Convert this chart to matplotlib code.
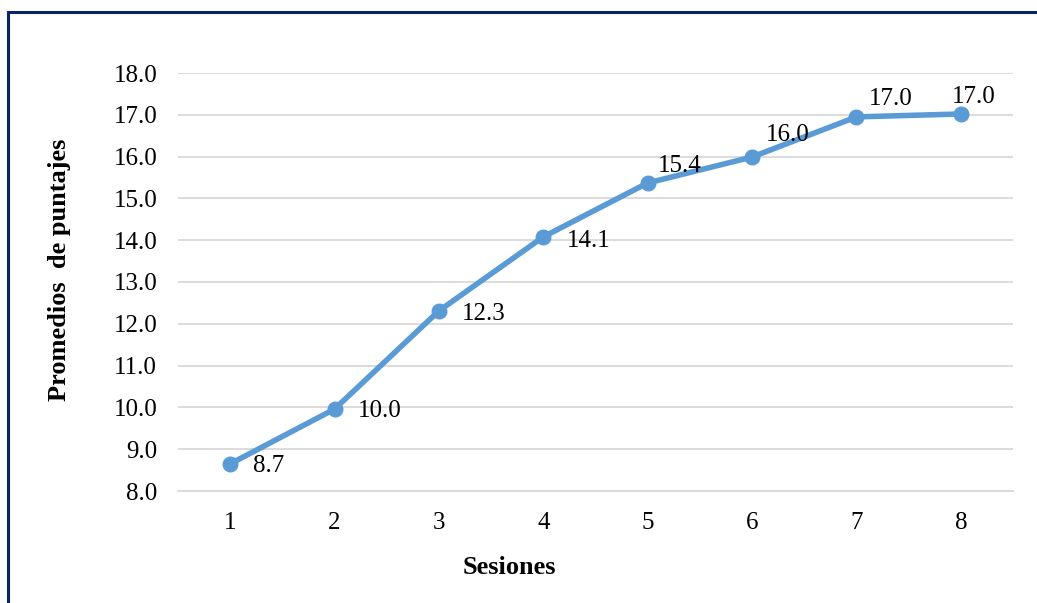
import matplotlib
matplotlib.use("Agg")
import matplotlib.pyplot as plt
from matplotlib.patches import Rectangle

sesiones = [1, 2, 3, 4, 5, 6, 7, 8]
promedios = [8.65, 9.96, 12.31, 14.08, 15.37, 15.99, 16.95, 17.02]
etiquetas = ["8.7", "10.0", "12.3", "14.1", "15.4", "16.0", "17.0", "17.0"]
yticks = [8.0, 9.0, 10.0, 11.0, 12.0, 13.0, 14.0, 15.0, 16.0, 17.0, 18.0]

plt.rcParams['font.family'] = ['Liberation Serif', 'DejaVu Serif']

W, H = 1037, 603
fig = plt.figure(figsize=(W/100, H/100), dpi=100)
ax = fig.add_axes([178/W, (H-491)/H, (1013-178)/W, (491-73)/H])

color = '#5B9BD5'
ax.plot(sesiones, promedios, color=color, lw=4, marker='o', ms=10.5, zorder=3,
        solid_capstyle='round')

offsets = [(23, -2, 'left', 'center'), (23, -2, 'left', 'center'), (23, -3, 'left', 'center'),
           (24, -4, 'left', 'center'), (10, 17, 'left', 'center'), (14, 22, 'left', 'center'),
           (12, 18, 'left', 'center'), (13, 17, 'center', 'center')]
for x, y, t, (dx, dy, ha, va) in zip(sesiones, promedios, etiquetas, offsets):
    ax.annotate(t, (x, y), xytext=(dx, dy), textcoords='offset pixels',
                ha=ha, va=va, fontsize=18, color='black', zorder=4)

ax.set_xlim(0.5, 8.5)
ax.set_ylim(8.0, 18.0)
ax.set_yticks(yticks)
ax.set_yticklabels([f"{v:.1f}" for v in yticks])
ax.set_xticks(sesiones)
ax.grid(axis='y', color='#D9D9D9', lw=1.3)
ax.set_axisbelow(True)
for s in ax.spines.values():
    s.set_visible(False)
ax.spines['bottom'].set_visible(True)
ax.spines['bottom'].set_color('#D9D9D9')
ax.spines['bottom'].set_linewidth(1.3)
ax.tick_params(length=0, labelsize=18, colors='black')
ax.tick_params(axis='y', pad=15)
ax.tick_params(axis='x', pad=15)

fig.text(509/W, (H-567)/H, "Sesiones", ha='center', va='center', fontsize=19, fontweight='bold')
fig.text(60/W, (H-270)/H, "Promedios  de puntajes", ha='center', va='center',
         fontsize=19, fontweight='bold', rotation=90)

fig.patches.append(Rectangle((8/W, -0.1), 1.2, (H-12)/H + 0.1, transform=fig.transFigure,
                             fill=False, edgecolor='#0B2466', lw=2.2))

fig.savefig("out.png", dpi=100)
